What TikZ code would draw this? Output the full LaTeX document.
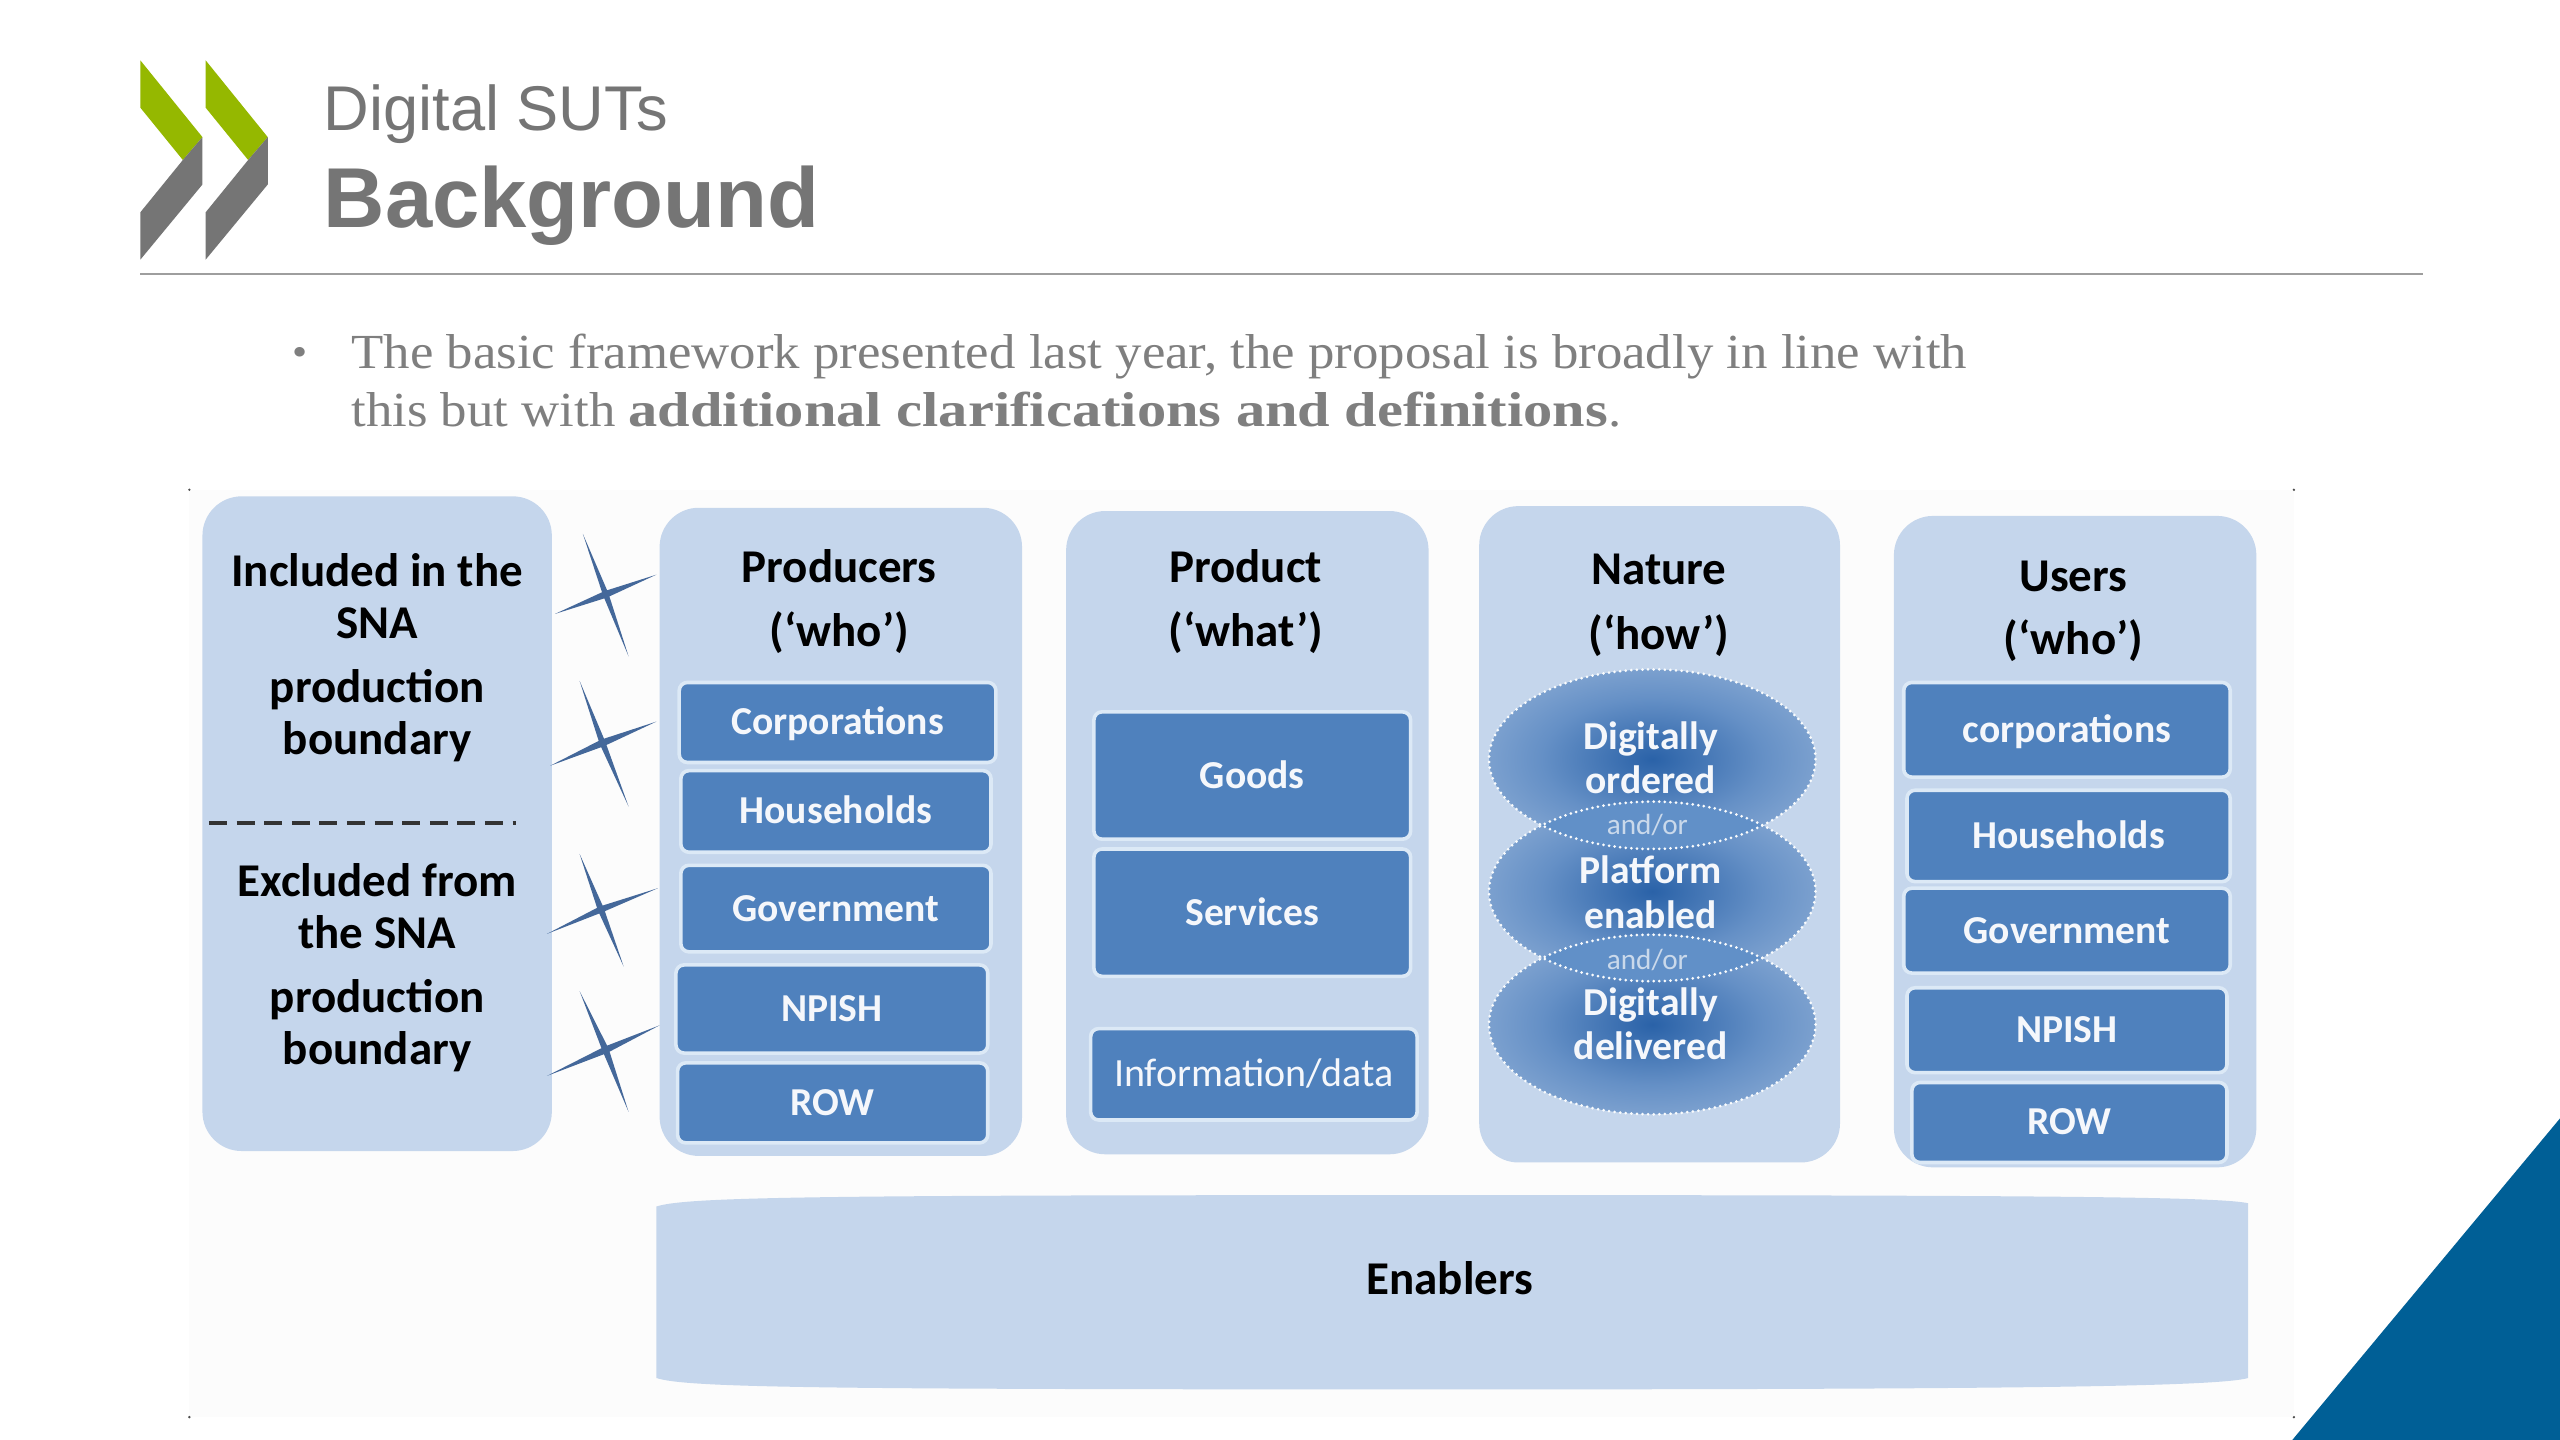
\documentclass[tikz,border=0pt]{standalone}
\usepackage{fontspec}
\setmainfont{Liberation Sans}
\newfontfamily\lab{Carlito}
\newfontfamily\bodyf[FakeStretch=1.078,BoldFeatures={FakeStretch=1.193}]{Liberation Serif}
\usetikzlibrary{shapes.geometric,calc}
\def\U{0.81633pt}
\definecolor{pan}{HTML}{C5D6EC}
\definecolor{boxc}{HTML}{4F81BD}
\definecolor{boxl}{HTML}{DCE9F6}
\definecolor{star}{HTML}{44689A}
\definecolor{ttl}{HTML}{7F7F7F}
\definecolor{ttd}{HTML}{757575}
\definecolor{grn}{HTML}{95B800}
\definecolor{gry}{HTML}{757575}
\definecolor{tri}{HTML}{005F96}
\definecolor{lens}{HTML}{6190C8}
\definecolor{ova}{HTML}{2A62A8}
\definecolor{ovb}{HTML}{6590C6}
\definecolor{ovc}{HTML}{B5CAE5}
\pgfdeclareradialshading{ell}{\pgfpointorigin}{color(0bp)=(ova);color(17bp)=(ovb);color(46bp)=(ovc);color(100bp)=(ovc)}
\tikzset{
 panel/.style={fill=pan,rounded corners=24*\U,inner sep=0pt},
 hdr/.style={anchor=base,font=\lab\bfseries\fontsize{23.5}{28}\selectfont,text=black,inner sep=0pt},
 ibox/.style={fill=boxc,draw=boxl,line width=1.8pt,rounded corners=5*\U,inner sep=0pt,text=white!94!boxc,
   font=\lab\bfseries\fontsize{19.8}{24}\selectfont,text height=12.5pt,text depth=0pt},
 regbox/.style={ibox,font=\lab\fontsize{20}{24}\selectfont},
 oval/.style={ellipse,inner sep=0pt,minimum width=200*\U,minimum height=110*\U,shade,shading=ell},
 ovaledge/.style={ellipse,inner sep=0pt,minimum width=200*\U,minimum height=110*\U,draw=white!92!pan,line width=1.5pt,line cap=round,dash pattern=on 0pt off 2.8pt},
 ovtxt/.style={anchor=base,inner sep=0pt,text=white!94!boxc,font=\lab\bfseries\fontsize{19.8}{24}\selectfont},
 andor/.style={anchor=base,inner sep=0pt,text=white!70!boxc,font=\lab\fontsize{14.6}{18}\selectfont},
 starf/.style={fill=star,draw=none},
 mark0/.style={fill=black!70,draw=none}
}
\newcommand\inr[3]{($#1+0.05*#2-0.05*#1+0.05*#3-0.05*#1$)}
\newcommand\fstar[5]{\fill[starf] #2 -- \inr{#1}{#2}{#3} -- #3 -- \inr{#1}{#3}{#4} -- #4 -- \inr{#1}{#4}{#5} -- #5 -- \inr{#1}{#5}{#2} -- cycle;}
\begin{document}
\begin{tikzpicture}[x=\U,y=-\U]
\useasboundingbox (0,0) rectangle (1568,882);
\fill[white] (0,0) rectangle (1568,882);
% logo
\foreach \d in {0,40}{
 \fill[grn] (86+\d,37) -- (124+\d,84) -- (112+\d,98) -- (86+\d,66) -- cycle;
 \fill[gry] (124+\d,84) -- (124+\d,113) -- (86+\d,159) -- (86+\d,130) -- (112+\d,98) -- cycle;
}
\node[anchor=base west,inner sep=0pt,text=ttd,font=\fontsize{31.6}{36}\selectfont] (t1) at (198,80) {Digital SUTs};
\node[anchor=base west,inner sep=0pt,text=ttd,font=\bfseries\fontsize{42.5}{48}\selectfont] (t2) at (198,139.5) {Background};
\draw[line width=1pt,black!38] (86,168) -- (1484,168);
% body text
\node[anchor=base,inner sep=0pt,text=ttl,font=\bodyf\fontsize{20}{24}\selectfont] (bul) at (184,224) {•};
\node[anchor=base west,inner sep=0pt,text=ttl,font=\bodyf\fontsize{24.5}{28}\selectfont] (l1) at (215,226) {The basic framework presented last year, the proposal is broadly in line with};
\node[anchor=base west,inner sep=0pt,text=ttl,font=\bodyf\fontsize{24.5}{28}\selectfont] (l2) at (215,261) {this but with \textbf{additional clarifications and definitions}.};
% picture backdrop
\fill[black!1] (116,300) rectangle (1405,868);
\foreach \p in {(116,300),(1405,300),(116,868),(1405,868)} \fill[mark0] \p circle (0.8);
% panels
\node[panel,minimum width=214*\U,minimum height=401*\U] (p1) at (231,504.5) {};
\node[panel,minimum width=222*\U,minimum height=397*\U] (p2) at (515,509.5) {};
\node[panel,minimum width=222*\U,minimum height=394*\U] (p3) at (764,510) {};
\node[panel,minimum width=221*\U,minimum height=402*\U] (p4) at (1016.5,511) {};
\node[panel,minimum width=222*\U,minimum height=399*\U] (p5) at (1271,515.5) {};
\fill[pan] (402,739) .. controls (420,733) and (500,732) .. (889,732) .. controls (1250,732) and (1360,733) .. (1377,737) -- (1377,844) .. controls (1360,849) and (1250,851) .. (889,851) .. controls (500,851) and (420,850) .. (402,844) -- cycle;
% left panel text
\node[hdr] (a1) at (231,359) {Included in the};
\node[hdr] (a2) at (231,391) {SNA};
\node[hdr] (a3) at (231,430) {production};
\node[hdr] (a4) at (231,462) {boundary};
\node[hdr] (b1) at (231,549) {Excluded from};
\node[hdr] (b2) at (231,581) {the SNA};
\node[hdr] (b3) at (231,620) {production};
\node[hdr] (b4) at (231,652) {boundary};
\draw[line width=1.9pt,black!80,dash pattern=on 9pt off 4.8pt] (128,504) -- (316,504);
% stars
\fstar{(371,364)}{(357,327)}{(402,352)}{(385,402)}{(340,376)}
\fstar{(369,455)}{(355,417)}{(402,442)}{(385,494)}{(337,469)}
\fstar{(368,557)}{(355,523)}{(403,544)}{(382,592)}{(335,572)}
\fstar{(371,643)}{(355,607)}{(404,628)}{(385,681)}{(335,659)}
% headers
\node[hdr] (h2a) at (514,357) {Producers};
\node[hdr] (h2b) at (514,396) {(‘who’)};
\node[hdr] (h3a) at (763,357) {Product};
\node[hdr] (h3b) at (763,396) {(‘what’)};
\node[hdr] (h4a) at (1016,358) {Nature};
\node[hdr] (h4b) at (1016,398) {(‘how’)};
\node[hdr] (h5a) at (1270,362) {Users};
\node[hdr] (h5b) at (1270,401) {(‘who’)};
\node[hdr] (en) at (888,793) {Enablers};
% producers
\node[ibox,minimum width=194*\U,minimum height=49*\U] (c1) at (513,442.5) {Corporations};
\node[ibox,minimum width=190*\U,minimum height=50*\U] (c2) at (512,497) {Households};
\node[ibox,minimum width=190*\U,minimum height=53*\U] (c3) at (512,556.5) {Government};
\node[ibox,minimum width=191*\U,minimum height=54*\U] (c4) at (509.5,618) {NPISH};
\node[ibox,minimum width=190*\U,minimum height=49*\U] (c5) at (510,675.5) {ROW};
% products
\node[ibox,minimum width=194*\U,minimum height=78*\U] (g1) at (767,475) {Goods};
\node[ibox,minimum width=194*\U,minimum height=78*\U] (g2) at (767,559) {Services};
\node[regbox,minimum width=200*\U,minimum height=56*\U] (g3) at (768,658) {Information/data};
% nature
\node[oval] (e1) at (1012,465) {};
\node[oval] (e2) at (1012,546) {};
\node[oval] (e3) at (1012,627.5) {};
\begin{scope}
 \clip (1012,465) ellipse (100 and 55);
 \fill[lens] (1012,546) ellipse (100 and 55);
\end{scope}
\begin{scope}
 \clip (1012,546) ellipse (100 and 55);
 \fill[lens] (1012,627.5) ellipse (100 and 55);
\end{scope}
\node[ovaledge] (e1b) at (e1) {};
\node[ovaledge] (e2b) at (e2) {};
\node[ovaledge] (e3b) at (e3) {};
\node[ovtxt] (n1) at (1011,459) {Digitally};
\node[ovtxt] (n2) at (1011,486) {ordered};
\node[andor] (o1) at (1009,511) {and/or};
\node[ovtxt] (n3) at (1011,541) {Platform};
\node[ovtxt] (n4) at (1011,569) {enabled};
\node[andor] (o2) at (1009,594) {and/or};
\node[ovtxt] (n5) at (1011,622) {Digitally};
\node[ovtxt] (n6) at (1011,649) {delivered};
% users
\node[ibox,minimum width=200*\U,minimum height=58*\U] (u1) at (1266,447) {corporations};
\node[ibox,minimum width=198*\U,minimum height=56*\U] (u2) at (1267,512) {Households};
\node[ibox,minimum width=200*\U,minimum height=52*\U] (u3) at (1266,570) {Government};
\node[ibox,minimum width=196*\U,minimum height=52*\U] (u4) at (1266,631) {NPISH};
\node[ibox,minimum width=193*\U,minimum height=49*\U] (u5) at (1267.5,687.5) {ROW};
% corner
\fill[tri] (1568,685) -- (1568,882) -- (1404,882) -- cycle;
\end{tikzpicture}
\end{document}
